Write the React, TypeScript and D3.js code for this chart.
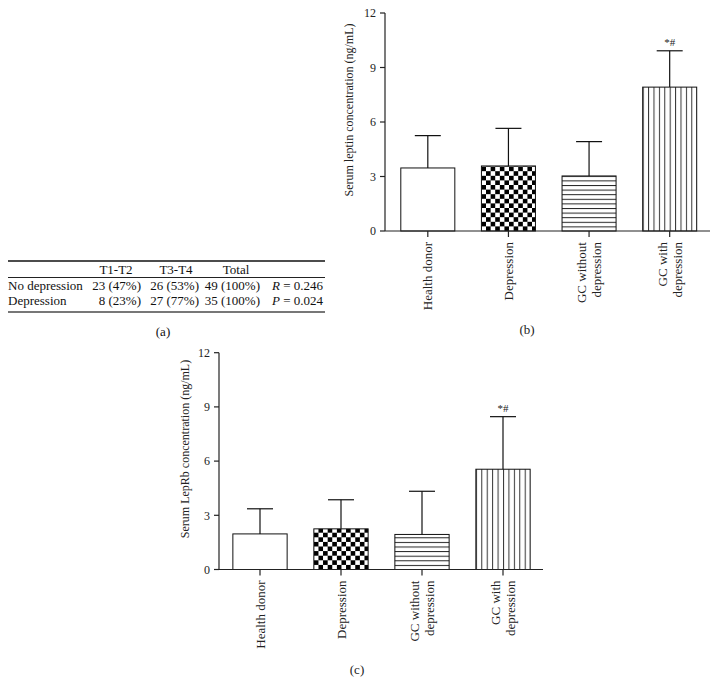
import * as d3 from "d3";
import React from "react";

// groups on the x axis (rotated labels, split into lines)
const categories = ["Health donor", "Depression", "GC without depression", "GC with depression"];
const categoryLines = [["Health donor"], ["Depression"], ["GC without", "depression"], ["GC with", "depression"]];
const fills = ["white", "check", "hstripe", "vstripe"];

// panel (b): serum leptin, mean and SD
const leptinMean = [3.47, 3.58, 3.03, 7.92];
const leptinSd = [1.78, 2.07, 1.89, 2.0];

// panel (c): serum LepRb, mean and SD
const leprbMean = [1.97, 2.25, 1.94, 5.55];
const leprbSd = [1.39, 1.61, 2.39, 2.91];

const marks = ["", "", "", "*#"];
const yTicks = [0, 3, 6, 9, 12];

// panel (a): table
const tableHead = ["", "T1-T2", "T3-T4", "Total", ""];
const tableRows = [
  ["No depression", "23 (47%)", "26 (53%)", "49 (100%)", "R = 0.246"],
  ["Depression", "8 (23%)", "27 (77%)", "35 (100%)", "P = 0.024"],
];

const serif = "'Liberation Serif', 'Times New Roman', serif";

type ChartProps = {
  id: string;
  mean: number[];
  sd: number[];
  axisX: number;
  xRange: [number, number];
  xEnd: number;
  yRange: [number, number];
  yLabel: string;
  yLabelPos: [number, number];
  letter: string;
  letterPos: [number, number];
};

const BarChart = (props: ChartProps) => {
  const { id, mean, sd, axisX, xRange, xEnd, yRange, yLabel, yLabelPos, letter, letterPos } = props;
  const x = d3.scaleBand().domain(categories).range(xRange).paddingInner(0.33).paddingOuter(0.165);
  const y = d3.scaleLinear().domain([0, 12]).range(yRange);
  const bw = x.bandwidth();
  const y0 = y(0);

  return (
    <g>
      <defs>
        {categories.map((c, i) => {
          const bx = x(c)!;
          if (fills[i] === "check") {
            const s = 4.6;
            return (
              <pattern key={c} id={`${id}-p${i}`} patternUnits="userSpaceOnUse" x={bx} y={y0} width={s * 2} height={s * 2}>
                <rect width={s * 2} height={s * 2} fill="white" />
                <rect x={0} y={0} width={s} height={s} fill="#000" />
                <rect x={s} y={s} width={s} height={s} fill="#000" />
              </pattern>
            );
          }
          if (fills[i] === "hstripe") {
            const s = 4.6;
            return (
              <pattern key={c} id={`${id}-p${i}`} patternUnits="userSpaceOnUse" x={bx} y={y0} width={10} height={s}>
                <rect width={10} height={s} fill="white" />
                <line x1={0} x2={10} y1={0.5} y2={0.5} stroke="#222" strokeWidth={1} />
              </pattern>
            );
          }
          if (fills[i] === "vstripe") {
            const s = bw / 10;
            return (
              <pattern key={c} id={`${id}-p${i}`} patternUnits="userSpaceOnUse" x={bx} y={y0} width={s} height={10}>
                <rect width={s} height={10} fill="white" />
                <line x1={0.5} x2={0.5} y1={0} y2={10} stroke="#333" strokeWidth={1} />
              </pattern>
            );
          }
          return null;
        })}
      </defs>

      {/* bars */}
      {categories.map((c, i) => (
        <rect
          key={c}
          x={x(c)}
          y={y(mean[i])}
          width={bw}
          height={y0 - y(mean[i])}
          fill={fills[i] === "white" ? "white" : `url(#${id}-p${i})`}
          stroke="#111"
          strokeWidth={1}
        />
      ))}

      {/* error bars */}
      {categories.map((c, i) => {
        const cx = x(c)! + bw / 2;
        const top = y(mean[i] + sd[i]);
        return (
          <g key={c} stroke="#111" strokeWidth={1.2}>
            <line x1={cx} x2={cx} y1={y(mean[i])} y2={top} />
            <line x1={cx - 13} x2={cx + 13} y1={top} y2={top} />
            {marks[i] && (
              <text x={cx} y={top - 5} textAnchor="middle" fontSize={11} fontFamily={serif} fill="#222" stroke="none">
                {marks[i]}
              </text>
            )}
          </g>
        );
      })}

      {/* y axis */}
      <line x1={axisX} x2={axisX} y1={y(12)} y2={y0} stroke="#222" strokeWidth={1.2} />
      {yTicks.map((t) => (
        <g key={t}>
          <line x1={axisX - 5} x2={axisX} y1={y(t)} y2={y(t)} stroke="#222" strokeWidth={1.2} />
          <text x={axisX - 9} y={y(t)} dy="0.35em" textAnchor="end" fontSize={12} fontFamily={serif} fill="#222">
            {t}
          </text>
        </g>
      ))}
      <text
        transform={`translate(${yLabelPos[0]},${yLabelPos[1]}) rotate(-90)`}
        textAnchor="middle"
        dy="0.35em"
        fontSize={12}
        fontFamily={serif}
        fill="#222"
      >
        {yLabel}
      </text>

      {/* x axis */}
      <line x1={axisX} x2={xEnd} y1={y0} y2={y0} stroke="#222" strokeWidth={1.2} />
      {categories.map((c, i) => {
        const cx = x(c)! + bw / 2;
        const lines = categoryLines[i];
        return (
          <g key={c}>
            <line x1={cx} x2={cx} y1={y0} y2={y0 + 6} stroke="#222" strokeWidth={1.2} />
            {lines.map((l, j) => (
              <text
                key={l}
                transform={`translate(${cx + (j - (lines.length - 1) / 2) * 14.5},${y0 + 11}) rotate(-90)`}
                textAnchor="end"
                dy="0.35em"
                fontSize={13}
                fontFamily={serif}
                fill="#222"
              >
                {l}
              </text>
            ))}
          </g>
        );
      })}

      <text x={letterPos[0]} y={letterPos[1]} dy="0.35em" textAnchor="middle" fontSize={13} fontFamily={serif} fill="#222">
        {letter}
      </text>
    </g>
  );
};

const Table = () => {
  const colX = [8, 141, 199, 260, 272];
  const anchors = ["start", "end", "end", "end", "start"];
  const headX = [0, 116, 176, 236, 0];
  const rowY = [290, 305];
  return (
    <g fontFamily={serif} fontSize={13} fill="#111">
      <line x1={8} x2={325} y1={261} y2={261} stroke="#111" strokeWidth={1.3} />
      {tableHead.map((h, i) =>
        h ? (
          <text key={i} x={headX[i]} y={274} textAnchor="middle">
            {h}
          </text>
        ) : null
      )}
      <line x1={8} x2={325} y1={277.5} y2={277.5} stroke="#222" strokeWidth={1} />
      {tableRows.map((row, r) =>
        row.map((cell, i) => {
          if (i === 4) {
            const [sym, rest] = cell.split(" = ");
            return (
              <text key={`${r}-${i}`} x={colX[i]} y={rowY[r]} textAnchor="start">
                <tspan fontStyle="italic">{sym}</tspan>
                {` = ${rest}`}
              </text>
            );
          }
          return (
            <text key={`${r}-${i}`} x={colX[i]} y={rowY[r]} textAnchor={anchors[i] as any}>
              {cell}
            </text>
          );
        })
      )}
      <line x1={8} x2={325} y1={312} y2={312} stroke="#777" strokeWidth={2} />
      <text x={163} y={331} dy="0.35em" textAnchor="middle" fontSize={13}>
        (a)
      </text>
    </g>
  );
};

export default function App() {
  return (
    <svg width={719} height={696} style={{ position: "absolute", left: 0, top: 0, background: "white" }}>
      <rect width={719} height={696} fill="white" />
      <Table />
      <BarChart
        id="b"
        mean={leptinMean}
        sd={leptinSd}
        axisX={385}
        xRange={[387.5, 710]}
        xEnd={710}
        yRange={[231, 13]}
        yLabel="Serum leptin concentration (ng/mL)"
        yLabelPos={[349, 110]}
        letter="(b)"
        letterPos={[527, 329]}
      />
      <BarChart
        id="c"
        mean={leprbMean}
        sd={leprbSd}
        axisX={219}
        xRange={[219.5, 543.5]}
        xEnd={543}
        yRange={[569.5, 352.7]}
        yLabel="Serum LepRb concentration (ng/mL)"
        yLabelPos={[185, 449]}
        letter="(c)"
        letterPos={[357, 669]}
      />
    </svg>
  );
}
